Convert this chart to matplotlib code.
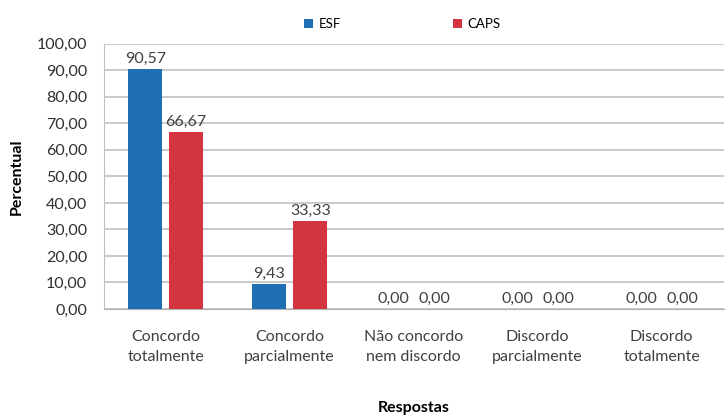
import matplotlib.pyplot as plt
import numpy as np

categorias = ["Concordo\ntotalmente", "Concordo\nparcialmente", "Não concordo\nnem discordo",
              "Discordo\nparcialmente", "Discordo\ntotalmente"]
esf = [90.57, 9.43, 0.0, 0.0, 0.0]
caps = [66.67, 33.33, 0.0, 0.0, 0.0]
yticks = np.arange(0, 101, 10)

plt.rcParams['font.family'] = ['Lato', 'DejaVu Sans']

fig = plt.figure(figsize=(7.25, 4.17), dpi=100)
ax = fig.add_axes([0.143, 0.259, 0.855, 0.636])

x = np.arange(len(categorias))
w = 0.275
b1 = ax.bar(x - w / 2 - 0.028, esf, w, color="#1f6fb5", label="ESF", zorder=3)
b2 = ax.bar(x + w / 2 + 0.028, caps, w, color="#d3343f", label="CAPS", zorder=3)

fmt = lambda v: f"{v:.2f}".replace(".", ",")
for bars in (b1, b2):
    for r in bars:
        ax.text(r.get_x() + r.get_width() / 2, r.get_height() + 1.2, fmt(r.get_height()),
                ha="center", va="bottom", fontsize=11.5, color="#404040")

ax.set_xlim(-0.5, len(categorias) - 0.5)
ax.set_ylim(0, 100)
ax.set_yticks(yticks)
ax.set_yticklabels([fmt(v) for v in yticks], fontsize=11.5, color="#303030")
ax.set_xticks(x)
ax.set_xticklabels(categorias, fontsize=11.5, color="#404040", linespacing=1.55)
ax.tick_params(axis="both", length=0, pad=12)
ax.tick_params(axis="x", pad=15)

ax.grid(axis="y", color="#c0c0c0", linewidth=1.2, zorder=0)
for s in ("top", "right"):
    ax.spines[s].set_visible(False)
ax.spines["left"].set_color("#c0c0c0")
ax.spines["bottom"].set_color("#b0b0b0")

ax.set_ylabel("Percentual", fontsize=11.5, fontweight="bold", labelpad=9)
ax.set_xlabel("Respostas", fontsize=11.5, fontweight="bold", labelpad=27)

fig.legend(loc="upper center", bbox_to_anchor=(0.555, 0.985), ncol=2, frameon=False,
           fontsize=9.5, handlelength=0.7, handleheight=0.7, columnspacing=8.5, handletextpad=0.4)

fig.savefig("out.png", dpi=100)
